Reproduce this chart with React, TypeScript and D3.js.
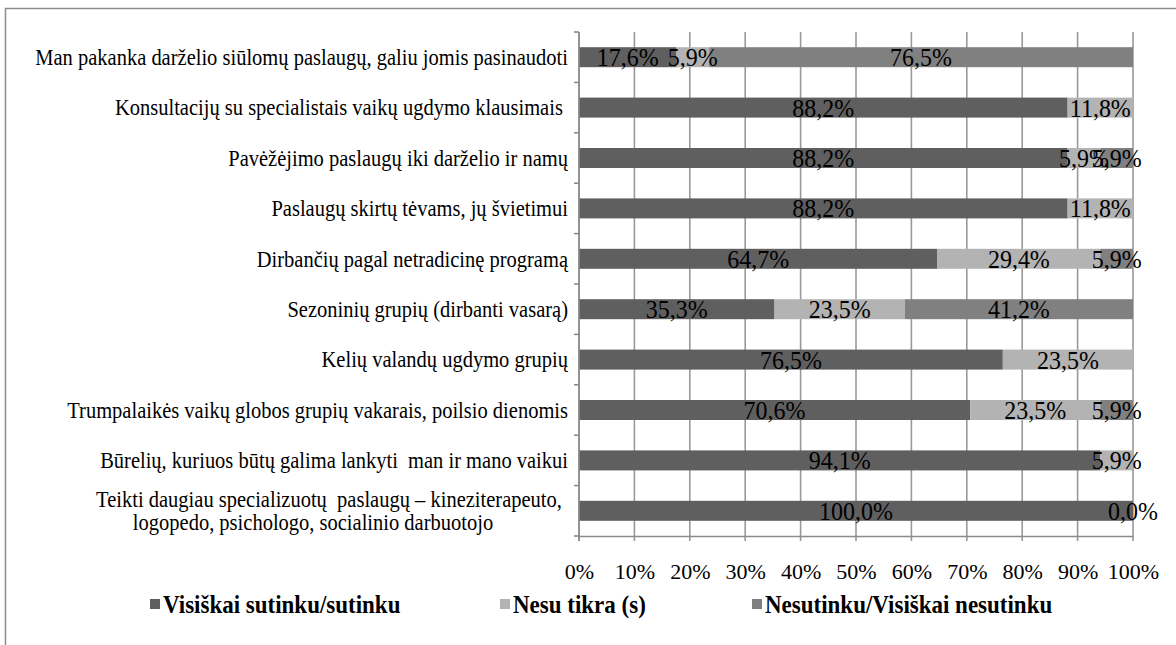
import React, { useRef, useEffect } from 'react';
import * as d3 from 'd3';

// categories top to bottom (last one wraps onto two lines)
const categories = [
  ['Man pakanka darželio siūlomų paslaugų, galiu jomis pasinaudoti'],
  ['Konsultacijų su specialistais vaikų ugdymo klausimais '],
  ['Pavėžėjimo paslaugų iki darželio ir namų'],
  ['Paslaugų skirtų tėvams, jų švietimui'],
  ['Dirbančių pagal netradicinę programą'],
  ['Sezoninių grupių (dirbanti vasarą)'],
  ['Kelių valandų ugdymo grupių'],
  ['Trumpalaikės vaikų globos grupių vakarais, poilsio dienomis'],
  ['Būrelių, kuriuos būtų galima lankyti  man ir mano vaikui'],
  ['Teikti daugiau specializuotų  paslaugų – kineziterapeuto,', 'logopedo, psichologo, socialinio darbuotojo'],
];

const seriesNames = ['Visiškai sutinku/sutinku', 'Nesu tikra (s)', 'Nesutinku/Visiškai nesutinku'];
const seriesColors = ['#5f5f5f', '#b3b3b3', '#808080'];

// null = no segment / no label
const agree = [17.6, 88.2, 88.2, 88.2, 64.7, 35.3, 76.5, 70.6, 94.1, 100.0];
const unsure = [5.9, 11.8, 5.9, 11.8, 29.4, 23.5, 23.5, 23.5, 5.9, null];
const disagree = [76.5, null, 5.9, null, 5.9, 41.2, null, 5.9, null, 0.0];

const xTicks = [0, 10, 20, 30, 40, 50, 60, 70, 80, 90, 100];

const W = 1176;
const H = 645;

const App = () => {
  const svgRef = useRef<SVGSVGElement>(null);

  useEffect(() => {
    const svg = d3.select(svgRef.current);
    svg.selectAll('*').remove();

    const left = 579, right = 1133, top = 32, bottom = 536;
    const font = '"Liberation Serif", "Times New Roman", Times, serif';

    // outer frame (only left and top edges visible in the window)
    svg.append('path')
      .attr('d', `M5.5,${H + 5} V8.5 H${W + 5}`)
      .attr('fill', 'none')
      .attr('stroke', '#8c8c8c')
      .attr('stroke-width', 1.5);

    const x = d3.scaleLinear().domain([0, 100]).range([left, right]);
    const bounds = d3.range(categories.length + 1).map(i => top + i * (bottom - top) / categories.length);

    // vertical gridlines (extend below the axis as ticks)
    svg.append('g')
      .selectAll('line')
      .data(xTicks)
      .join('line')
      .attr('x1', d => x(d))
      .attr('x2', d => x(d))
      .attr('y1', top)
      .attr('y2', bottom + 5)
      .attr('stroke', '#999')
      .attr('stroke-width', 1.6);

    const rows = categories.map((_, i) => [agree[i], unsure[i], disagree[i]]);
    const barH = 20;
    const labelCx = [329, 313];
    rows.forEach((vals, i) => {
      const cy = bounds[i] + (bounds[i + 1] - bounds[i]) / 2;

      // stacked segments
      let acc = 0;
      vals.forEach((v, s) => {
        if (v === null) return;
        const x0 = acc;
        acc += v;
        svg.append('rect')
          .attr('x', x(x0))
          .attr('y', cy - barH / 2)
          .attr('width', x(acc) - x(x0))
          .attr('height', barH)
          .attr('fill', seriesColors[s]);
      });

      // data labels
      acc = 0;
      vals.forEach((v) => {
        if (v === null) return;
        const x0 = acc;
        acc += v;
        svg.append('text')
          .attr('transform', `translate(${(x(x0) + x(acc)) / 2},${cy}) scale(1,1.08)`)
          .attr('dy', '0.35em')
          .attr('text-anchor', 'middle')
          .style('font-family', font)
          .style('font-size', '24px')
          .attr('fill', '#000')
          .text(v.toFixed(1).replace('.', ',') + '%');
      });

      // category label
      const lines = categories[i];
      const lh = 23;
      lines.forEach((ln, k) => {
        const ty = cy + (k - (lines.length - 1) / 2) * lh;
        const t = svg.append('text')
          .attr('dy', '0.35em')
          .attr('text-anchor', lines.length > 1 ? 'middle' : 'end')
          .style('font-family', font)
          .style('font-size', '20.5px')
          .style('white-space', 'pre')
          .attr('fill', '#000')
          .text(ln);
        const tx = lines.length > 1 ? labelCx[k] : 568;
        t.attr('transform', `translate(${tx},${ty}) scale(1,1.08)`);
      });
    });

    // left axis with ticks at band boundaries
    svg.append('line')
      .attr('x1', left).attr('x2', left)
      .attr('y1', top).attr('y2', bottom + 5)
      .attr('stroke', '#8c8c8c').attr('stroke-width', 1.6);
    svg.append('g')
      .selectAll('line')
      .data(bounds)
      .join('line')
      .attr('x1', left - 5).attr('x2', left)
      .attr('y1', d => d).attr('y2', d => d)
      .attr('stroke', '#8c8c8c').attr('stroke-width', 1.6);

    // bottom axis
    const xAxis = d3.axisBottom(x)
      .tickValues(xTicks)
      .tickSize(0)
      .tickPadding(27)
      .tickFormat(d => `${d}%`);
    const ax = svg.append('g')
      .attr('transform', `translate(0,${bottom})`)
      .call(xAxis);
    ax.select('.domain').attr('stroke', '#8c8c8c').attr('stroke-width', 1.6);
    ax.selectAll('text')
      .style('font-family', font)
      .style('font-size', '22px')
      .attr('fill', '#000');

    // legend
    const legendX = [150, 500, 752];
    const legendY = 604;
    seriesNames.forEach((name, s) => {
      svg.append('rect')
        .attr('x', legendX[s])
        .attr('y', legendY - 5)
        .attr('width', 10)
        .attr('height', 10)
        .attr('fill', seriesColors[s]);
      svg.append('text')
        .attr('transform', `translate(${legendX[s] + 13},${legendY}) scale(1,1.08)`)
        .attr('dy', '0.35em')
        .style('font-family', font)
        .style('font-size', '23px')
        .style('font-weight', 'bold')
        .attr('fill', '#000')
        .text(name);
    });
  }, []);

  return (
    <div style={{ position: 'absolute', left: 0, top: 0, width: W, height: H, background: '#fff' }}>
      <svg ref={svgRef} width={W} height={H} style={{ display: 'block' }} />
    </div>
  );
};

export default App;
